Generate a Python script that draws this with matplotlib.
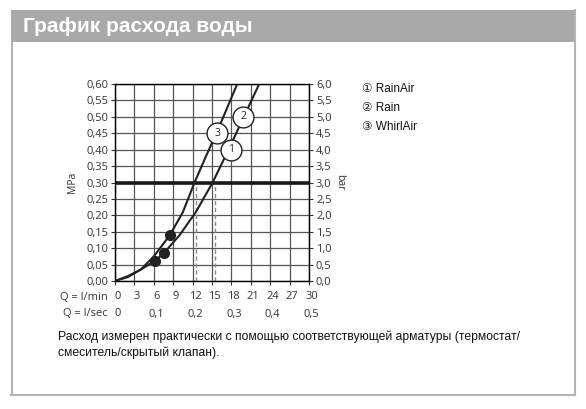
import matplotlib.pyplot as plt
from matplotlib.patches import Rectangle
from matplotlib.lines import Line2D
import matplotlib.transforms as mtransforms

# === Données ===
q_ticks = [0, 3, 6, 9, 12, 15, 18, 21, 24, 27, 30]          # l/min
qs_ticks = [0, 0.1, 0.2, 0.3, 0.4, 0.5]                       # l/sec
p_ticks = [0, 0.05, 0.10, 0.15, 0.20, 0.25, 0.30, 0.35, 0.40, 0.45, 0.50, 0.55, 0.60]

# courbe 3 (WhirlAir)
whirl_q = [0, 2, 4, 6, 8.5, 10.5, 12.3, 14, 15.8, 17.4, 18.9]
whirl_p = [0, 0.012, 0.035, 0.075, 0.14, 0.21, 0.30, 0.377, 0.455, 0.53, 0.60]
# courbes 1 + 2 (RainAir / Rain, superposées)
rain_q = [0, 2, 4, 6.2, 7.6, 10, 12.5, 15.1, 17.8, 19.8, 22.3]
rain_p = [0, 0.015, 0.035, 0.062, 0.086, 0.14, 0.21, 0.30, 0.41, 0.495, 0.60]

# points de fonctionnement
dot_q = [6.2, 7.6, 8.5]
dot_p = [0.062, 0.086, 0.14]

# étiquettes rondes sur les courbes
label_ids = ["1", "2", "3"]
label_q = [17.9, 19.8, 15.8]
label_p = [0.40, 0.50, 0.45]

legend_items = ["\u2460 RainAir", "\u2461 Rain", "\u2462 WhirlAir"]
ref_pressure = 0.30
dash_q = [12.6, 15.4]

title = "График расхода воды"
note = ("Расход измерен практически с помощью соответствующей арматуры (термостат/\n"
        "смеситель/скрытый клапан).")

W, H = 586, 409
def fx(x):
    return x / W
def fy(y):
    return 1 - y / H

fig = plt.figure(figsize=(W / 100, H / 100), dpi=100)
fig.patch.set_facecolor("white")

# === Cadre et bandeau de titre ===
fig.add_artist(Rectangle((fx(11), fy(42)), fx(575) - fx(11), fy(10) - fy(42),
                         transform=fig.transFigure, color="#a9a9a9", lw=0))
frame_c = "#b4b4b4"
fig.add_artist(Line2D([fx(11.5), fx(11.5)], [fy(42), fy(395)], color=frame_c, lw=1.5))
fig.add_artist(Line2D([fx(11), fx(575)], [fy(395), fy(395)], color=frame_c, lw=1.5))
fig.add_artist(Line2D([fx(574.5), fx(574.5)], [fy(10), fy(395)], color=frame_c, lw=1.5))
fig.text(fx(23), fy(27), title, color="white", fontsize=15, fontweight="bold",
         family="Liberation Sans", va="center", ha="left")

# === Axes ===
tick_font = "Open Sans"
tick_c = "#333333"
ax = fig.add_axes([fx(115), fy(281), fx(309) - fx(115), fy(84) - fy(281)])
ax.set_xlim(0, 30)
ax.set_ylim(0, 0.60)
ax.set_xticks(q_ticks)
ax.set_yticks(p_ticks)
ax.set_xticklabels([str(q) for q in q_ticks], fontsize=8, family=tick_font, color=tick_c)
ax.set_yticklabels([f"{p:.2f}".replace(".", ",") for p in p_ticks], fontsize=8,
                   family=tick_font, color=tick_c)
ax.tick_params(axis="both", length=3, width=0.8, color="#333333", pad=2)
ax.tick_params(axis="x", pad=4)
ax.grid(True, color="#555555", lw=0.9)
ax.set_axisbelow(True)
for s in ax.spines.values():
    s.set_color("#222222")
    s.set_linewidth(1)

# léger décalage à droite des libellés de l'axe x
shift = mtransforms.ScaledTranslation(0.025, 0, fig.dpi_scale_trans)
for lab in ax.get_xticklabels():
    lab.set_transform(lab.get_transform() + shift)

ax2 = ax.twinx()
ax2.set_ylim(0, 6.0)
bar_ticks = [p * 10 for p in p_ticks]
ax2.set_yticks(bar_ticks)
ax2.set_yticklabels([f"{b:.1f}".replace(".", ",") for b in bar_ticks], fontsize=8,
                    family=tick_font, color=tick_c)
ax2.tick_params(axis="y", length=3, width=0.8, color="#333333", pad=2)

ax.set_ylabel("MPa", fontsize=7.5, family=tick_font, color=tick_c, labelpad=6)
ax2.set_ylabel("bar", fontsize=7.5, family=tick_font, color=tick_c, rotation=270, labelpad=10)

# ligne de pression de référence
ax.axhline(ref_pressure, color="#1a1a1a", lw=2.6, zorder=3)
for q in dash_q:
    ax.plot([q, q], [0, ref_pressure], color="#888888", lw=1, ls=(0, (3, 2)), zorder=2)

# courbes
ax.plot(whirl_q, whirl_p, color="#222222", lw=1.5, zorder=4, clip_on=True)
ax.plot(rain_q, rain_p, color="#222222", lw=1.5, zorder=4, clip_on=True)
ax.plot(dot_q, dot_p, "o", color="#222222", ms=7, zorder=5, ls="none")

for lid, q, p in zip(label_ids, label_q, label_p):
    ax.plot(q, p, "o", ms=15, mfc="white", mec="#222222", mew=1, zorder=6)
    ax.text(q, p, lid, ha="center", va="center", fontsize=7.5, family=tick_font,
            color="#222222", zorder=7)

# === Ligne l/sec et libellés Q ===
xtrans = mtransforms.blended_transform_factory(ax.transData, fig.transFigure) + shift
for qs in qs_ticks:
    lab = "0" if qs == 0 else f"{qs:.1f}".replace(".", ",")
    ax.text(qs * 60, fy(314), lab, transform=xtrans, ha="center", va="center",
            fontsize=8, family=tick_font, color=tick_c)
fig.text(fx(108), fy(297), "Q = l/min", ha="right", va="center", fontsize=8,
         family=tick_font, color=tick_c)
fig.text(fx(108), fy(314), "Q = l/sec", ha="right", va="center", fontsize=8,
         family=tick_font, color=tick_c)

# === Légende ===
for i, item in enumerate(legend_items):
    fig.text(fx(362), fy(89 + i * 19), item, ha="left", va="center", fontsize=8.5,
             family=["Liberation Sans", "DejaVu Sans"], color="#111111")

# === Note ===
fig.text(fx(58), fy(345), note, ha="left", va="center", fontsize=8.7,
         family="Liberation Sans", color="#111111", linespacing=1.35)

fig.savefig("out.png", dpi=100)
